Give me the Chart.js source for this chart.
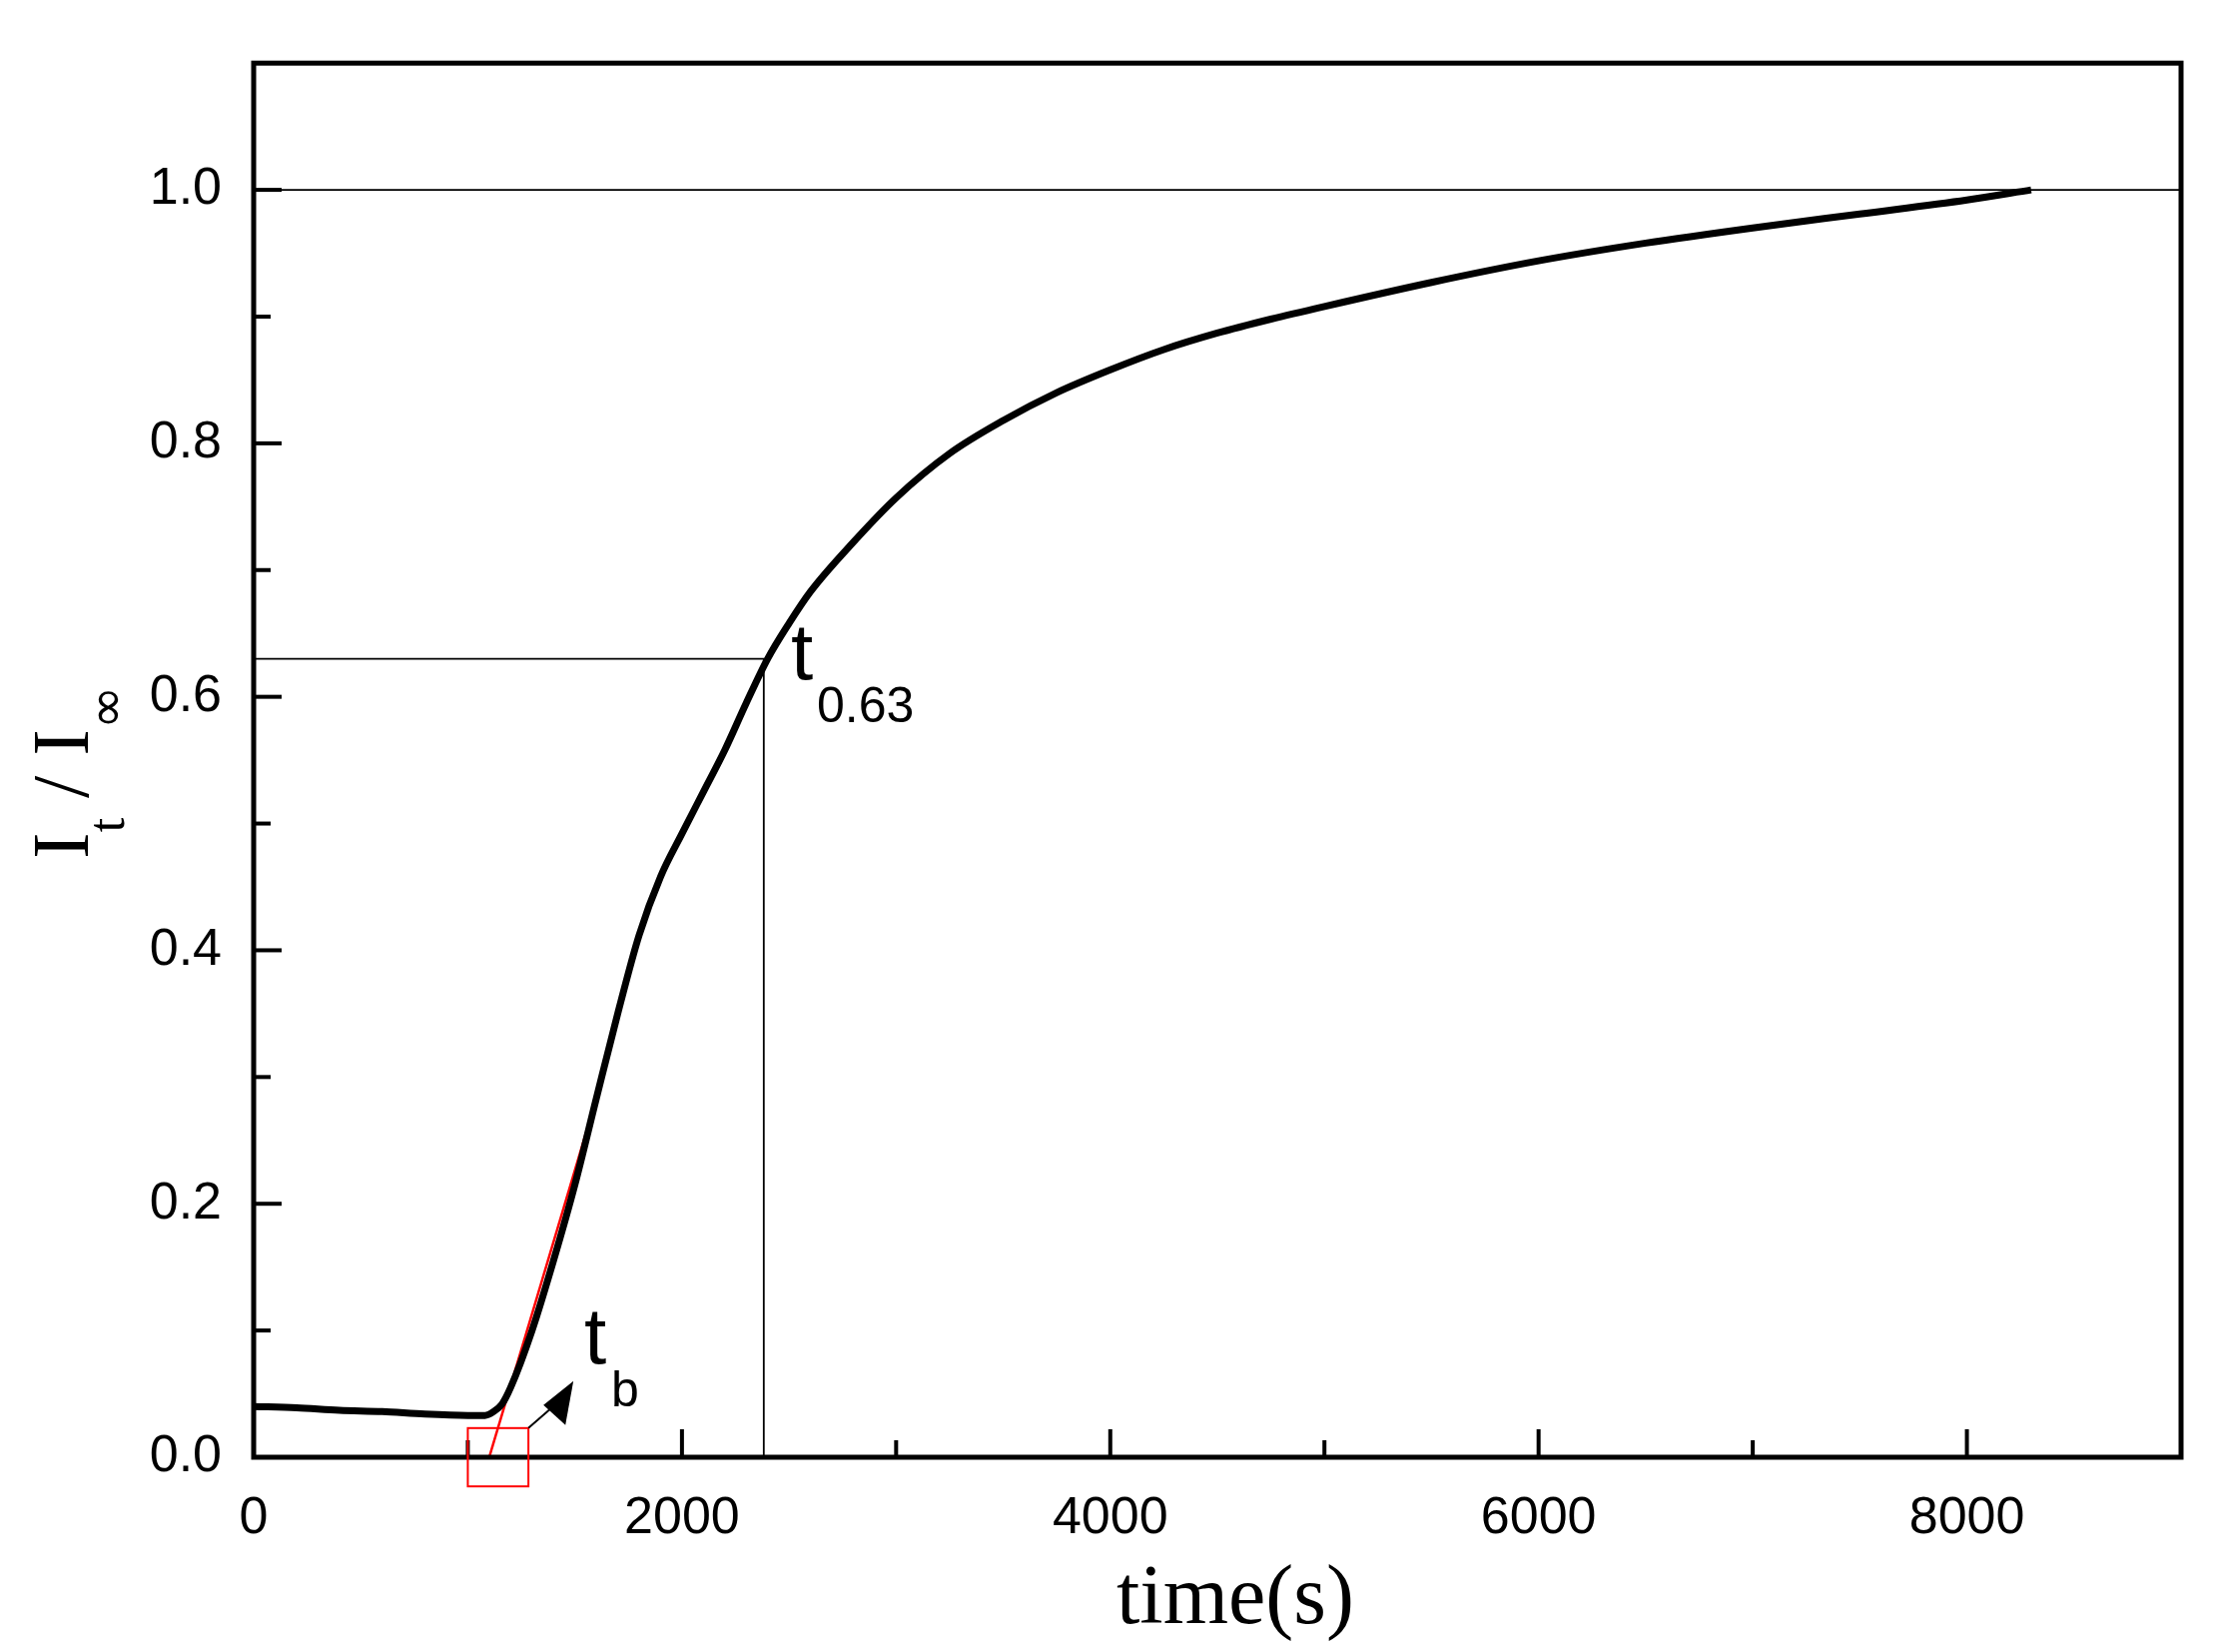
<!DOCTYPE html>
<html><head><meta charset="utf-8">
<script src="https://cdn.jsdelivr.net/npm/chart.js@4"></script>
<style>html,body{margin:0;padding:0;background:#fff}</style>
</head><body>
<canvas id="c" width="2224" height="1654"></canvas>
<script>
// curva I_t / I_inf
const tiempos = [0, 200, 400, 600, 800, 1000, 1080, 1120, 1160, 1200, 1300, 1400, 1500, 1600, 1700, 1800, 1900, 2000, 2100, 2200, 2300, 2400, 2500, 2600, 2800, 3000, 3250, 3500, 3750, 4000, 4250, 4500, 4750, 5000, 5500, 6000, 6500, 7000, 7500, 8000, 8300];
const intensidad = [0.040, 0.039, 0.037, 0.036, 0.034, 0.033, 0.033, 0.036, 0.042, 0.055, 0.10, 0.155, 0.215, 0.283, 0.350, 0.412, 0.458, 0.492, 0.525, 0.558, 0.595, 0.630, 0.658, 0.683, 0.722, 0.757, 0.792, 0.818, 0.840, 0.858, 0.874, 0.887, 0.898, 0.908, 0.927, 0.944, 0.958, 0.970, 0.981, 0.992, 1.0];
const tangenteX = [1100, 1600];
const tangenteY = [0.0, 0.283];
const t063 = 2382, y063 = 0.63;
const xTicks = [0, 2000, 4000, 6000, 8000];
const yTicks = [0.0, 0.2, 0.4, 0.6, 0.8, 1.0];

const extras = {
  id: 'extras',
  afterDraw(chart) {
    const ctx = chart.ctx, a = chart.chartArea;
    const x = chart.scales.x, y = chart.scales.y;
    ctx.save();
    ctx.strokeStyle = '#000';
    ctx.lineWidth = 5;
    ctx.strokeRect(a.left, a.top, a.right - a.left, a.bottom - a.top);
    // ticks hacia adentro
    ctx.lineWidth = 4;
    for (let v = 0; v <= 9000; v += 1000) {
      const px = x.getPixelForValue(v), len = v % 2000 === 0 ? 28 : 17;
      ctx.beginPath(); ctx.moveTo(px, a.bottom); ctx.lineTo(px, a.bottom - len); ctx.stroke();
    }
    for (let i = 0; i <= 10; i++) {
      const py = y.getPixelForValue(i / 10), len = i % 2 === 0 ? 28 : 17;
      ctx.beginPath(); ctx.moveTo(a.left, py); ctx.lineTo(a.left + len, py); ctx.stroke();
    }
    // lineas de referencia
    ctx.lineWidth = 1.8;
    ctx.beginPath();
    ctx.moveTo(a.left, y.getPixelForValue(1.0)); ctx.lineTo(a.right, y.getPixelForValue(1.0));
    ctx.moveTo(a.left, y.getPixelForValue(y063)); ctx.lineTo(x.getPixelForValue(t063), y.getPixelForValue(y063));
    ctx.lineTo(x.getPixelForValue(t063), a.bottom);
    ctx.stroke();
    // recuadro rojo
    ctx.strokeStyle = '#ff0000'; ctx.lineWidth = 2;
    const bx0 = x.getPixelForValue(1000), bx1 = x.getPixelForValue(1283);
    const by0 = y.getPixelForValue(0.023), by1 = y.getPixelForValue(-0.023);
    ctx.strokeRect(bx0, by0, bx1 - bx0, by1 - by0);
    // flecha
    ctx.strokeStyle = '#000'; ctx.fillStyle = '#000'; ctx.lineWidth = 2;
    const ax1 = x.getPixelForValue(1493), ay1 = y.getPixelForValue(0.06);
    ctx.beginPath(); ctx.moveTo(bx1, by0); ctx.lineTo(ax1 - 14, ay1 + 20); ctx.stroke();
    ctx.beginPath(); ctx.moveTo(ax1, ay1); ctx.lineTo(ax1 - 30, ay1 + 24); ctx.lineTo(ax1 - 8, ay1 + 44); ctx.closePath(); ctx.fill();
    // etiquetas
    ctx.fillStyle = '#000';
    ctx.textBaseline = 'alphabetic';
    ctx.font = '80px "Liberation Sans", Arial';
    ctx.fillText('t', 585, 1365);
    ctx.fillText('t', 792, 680);
    ctx.font = '50px "Liberation Sans", Arial';
    ctx.fillText('b', 612, 1408);
    ctx.fillText('0.63', 818, 723);
    // titulos de ejes
    ctx.font = '84px "Liberation Serif", "Times New Roman"';
    ctx.textAlign = 'center';
    ctx.fillText('time(s)', 1237, 1625);
    ctx.translate(88, 740);
    ctx.rotate(-Math.PI / 2);
    ctx.textAlign = 'left';
    ctx.font = '80px "Liberation Serif", "Times New Roman"';
    let cx = -120;
    ctx.fillText('I', cx, 0); cx += ctx.measureText('I').width;
    ctx.font = '52px "Liberation Serif", "Times New Roman"';
    ctx.fillText('t', cx, 36); cx += ctx.measureText('t').width;
    ctx.font = '80px "Liberation Serif", "Times New Roman"';
    ctx.fillText(' / I', cx, 0); cx += ctx.measureText(' / I').width;
    ctx.font = '52px "DejaVu Sans"';
    ctx.fillText('\u221E', cx, 36);
    ctx.restore();
  }
};

new Chart(document.getElementById('c'), {
  type: 'scatter',
  data: {
    datasets: [
      { data: tiempos.map((t, i) => ({ x: t, y: intensidad[i] })), showLine: true, borderColor: '#000', borderWidth: 7, pointRadius: 0, cubicInterpolationMode: 'monotone' },
      { data: tangenteX.map((t, i) => ({ x: t, y: tangenteY[i] })), showLine: true, borderColor: '#ff0000', borderWidth: 2.5, pointRadius: 0 }
    ]
  },
  plugins: [extras],
  options: {
    responsive: false, animation: false,
    layout: { padding: { top: 14, right: 40, left: 0, bottom: 0 } },
    plugins: { legend: { display: false }, tooltip: { enabled: false } },
    scales: {
      x: {
        type: 'linear', min: 0, max: 9000,
        afterFit: s => { s.height = 195; },
        afterBuildTicks: s => { s.ticks = xTicks.map(v => ({ value: v })); },
        grid: { display: false, drawTicks: false },
        border: { display: false },
        ticks: { padding: 30, color: '#000', font: { family: '"Liberation Sans", Arial', size: 52 }, callback: v => String(v) }
      },
      y: {
        min: 0, max: 1.1,
        afterFit: s => { s.width = 254; },
        afterBuildTicks: s => { s.ticks = yTicks.map(v => ({ value: v })); },
        grid: { display: false, drawTicks: false },
        border: { display: false },
        ticks: { padding: 32, color: '#000', font: { family: '"Liberation Sans", Arial', size: 52 }, callback: v => v.toFixed(1) }
      }
    }
  }
});
</script>
</body></html>
